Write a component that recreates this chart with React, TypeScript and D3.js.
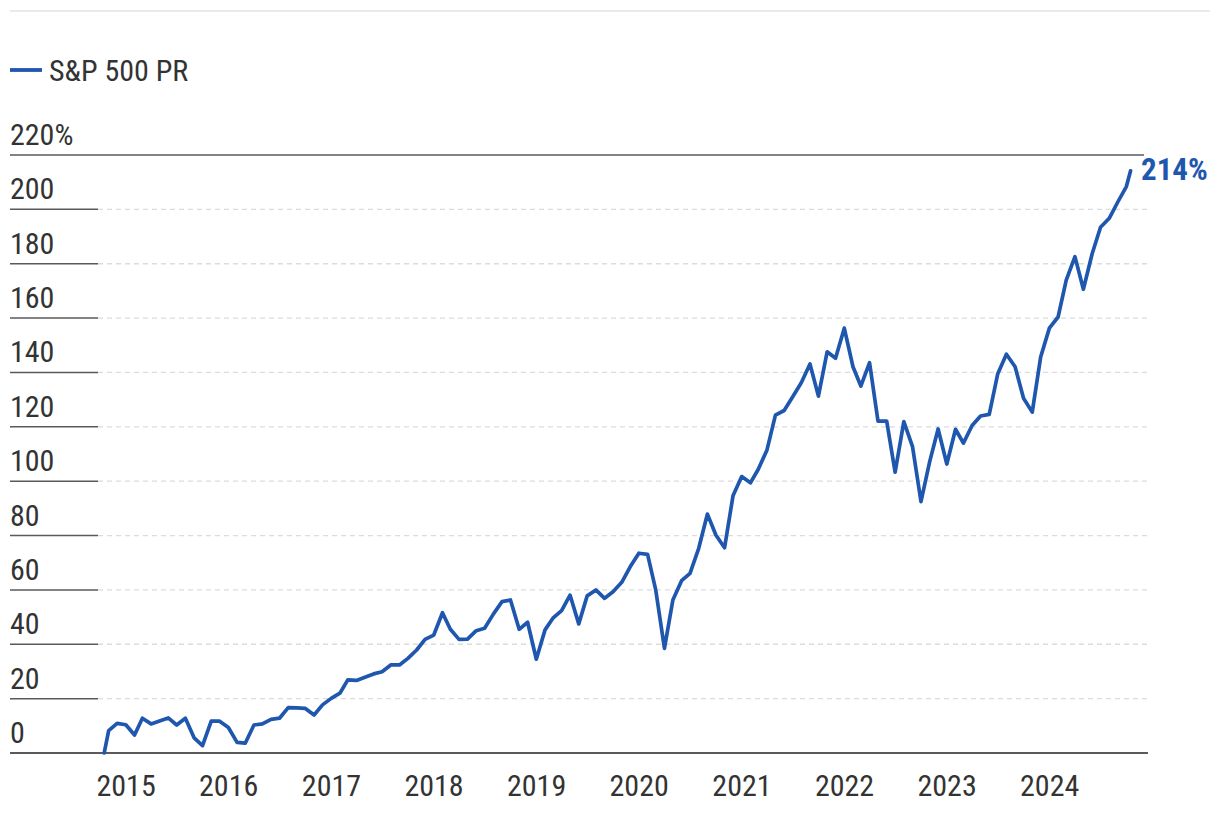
import * as d3 from 'd3';

// S&P 500 price return, cumulative %, 15-Oct-2014 .. 15-Oct-2024 (month-end points in between)
const startDate = new Date(2014, 9, 15);
const endDate = new Date(2024, 9, 15);
const monthEnds = d3.range(120).map(i => new Date(2014, 10 + i, 0));
const dates = [startDate, ...monthEnds, endDate];

const values = [
  0,
  8.2, 10.9, 10.4,
  6.6, 12.8, 10.7, 11.8, 12.9, 10.3, 12.8, 5.6, 2.7, 11.7, 11.7, 9.4,
  3.9, 3.6, 10.3, 10.7, 12.4, 12.8, 16.7, 16.6, 16.4, 14.0, 17.7, 20.1,
  22.0, 26.9, 26.7, 27.9, 29.1, 29.9, 32.4, 32.4, 34.8, 37.9, 41.8, 43.4,
  51.6, 45.5, 41.8, 41.9, 45.0, 45.9, 51.1, 55.7, 56.3, 45.5, 48.1, 34.5,
  45.3, 49.6, 52.4, 58.1, 47.5, 57.8, 60.0, 56.9, 59.3, 62.8, 68.5, 73.5,
  73.1, 60.0, 38.5, 56.3, 63.4, 66.1, 75.3, 87.9, 80.2, 75.5, 94.6, 101.7,
  99.4, 104.4, 111.5, 124.3, 126.0, 131.0, 136.2, 143.1, 131.3, 147.6, 145.2, 156.3,
  142.1, 135.0, 143.6, 122.1, 122.1, 103.3, 121.9, 112.7, 92.5, 107.2, 119.2, 106.3,
  119.1, 114.0, 120.5, 124.0, 124.6, 139.4, 146.7, 142.1, 130.5, 125.4, 145.7, 156.3,
  160.4, 174.0, 182.6, 170.6, 183.6, 193.4, 196.7, 202.8, 208.4,
  214.2,
];

const seriesName = 'S&P 500 PR';
const yTicks = [0, 20, 40, 60, 80, 100, 120, 140, 160, 180, 200, 220];
const yearTicks = d3.range(2015, 2025);

const W = 1220;
const H = 818;
const FONT = '"Roboto Condensed", "Liberation Sans Narrow", "DejaVu Sans Condensed", "Arial Narrow", Roboto, sans-serif';
const BLUE = '#1f56ae';
const TEXT = '#333333';
const AXIS = '#5a5a5a';

export default function App() {
  const x = d3.scaleTime()
    .domain([new Date(2014, 8, 23), new Date(2024, 11, 16)])
    .range([98, 1148]);
  const y = d3.scaleLinear().domain([0, 220]).range([753, 155]);

  const pts = dates.map((d, i) => ({ d, v: values[i] }));
  const line = d3.line<{ d: Date; v: number }>()
    .x(p => x(p.d))
    .y(p => y(p.v));

  const last = pts[pts.length - 1];

  return (
    <svg width={W} height={H} style={{ position: 'absolute', left: 0, top: 0, background: '#fff' }}
      fontFamily={FONT}>
      <line x1={10} x2={1210} y1={11} y2={11} stroke="#e3e3e3" strokeWidth={1.5} />

      {/* legend */}
      <line x1={10} x2={42} y1={70} y2={70} stroke={BLUE} strokeWidth={3.8} />
      <text x={49} y={81} fontSize={30} fill={TEXT}>{seriesName}</text>

      {/* y grid + labels */}
      {yTicks.map(t => (
        <g key={t}>
          {t > 0 && t < 220 && (
            <line x1={98} x2={1148} y1={y(t)} y2={y(t)} stroke="#dcdcdc" strokeWidth={1.3}
              strokeDasharray="5 4" />
          )}
          <line x1={10} x2={t === 0 ? 1148 : t === 220 ? 1144 : 98} y1={y(t)} y2={y(t)}
            stroke={AXIS} strokeWidth={t === 0 ? 2 : 1.5} />
          <text x={10} y={y(t) - 10} fontSize={30} fill={TEXT}>{t === 220 ? '220%' : t}</text>
        </g>
      ))}

      {/* x labels */}
      {yearTicks.map(yr => (
        <text key={yr} x={x(new Date(yr, 0, 1))} y={796} fontSize={30} fill={TEXT}
          textAnchor="middle">{yr}</text>
      ))}

      <path d={line(pts) || ''} fill="none" stroke={BLUE} strokeWidth={3.7}
        strokeLinejoin="round" strokeLinecap="round" />

      <text x={1141} y={180} fontSize={31} fontWeight="bold" fill={BLUE}>
        {`${Math.round(last.v)}%`}
      </text>
    </svg>
  );
}
